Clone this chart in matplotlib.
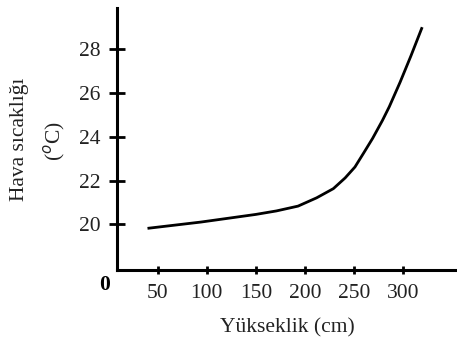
import matplotlib.pyplot as plt

# values
height_cm = [41, 94, 150, 171, 193, 212, 229, 241, 251, 260, 269, 279, 286, 297, 308, 319]
temp_c = [19.82, 20.1, 20.45, 20.61, 20.83, 21.21, 21.63, 22.12, 22.62, 23.27,
          23.93, 24.75, 25.38, 26.5, 27.7, 28.96]
xticks = [50, 100, 150, 200, 250, 300]
yticks = [20, 22, 24, 26, 28]

plt.rcParams['font.family'] = ['Liberation Serif', 'DejaVu Serif']

fig = plt.figure(figsize=(4.57, 3.45), dpi=100)
ax = fig.add_axes([0.256, 0.217, 0.744, 0.76])

ax.plot(height_cm, temp_c, color='black', linewidth=2.0)

ax.set_xlim(8.5, 355)
ax.set_ylim(17.9, 29.9)
ax.set_xticks(xticks)
ax.set_yticks(yticks)
ax.tick_params(direction='inout', width=2.0, labelsize=15.5,
               labelcolor='#222222', colors='black')
ax.tick_params(axis='x', length=6, pad=7)
ax.tick_params(axis='y', length=12, pad=6)

for s in ['top', 'right']:
    ax.spines[s].set_visible(False)
for s in ['left', 'bottom']:
    ax.spines[s].set_linewidth(2.2)

fig.text(105 / 457, 1 - 285 / 345, '0', fontsize=15.5, fontweight='bold',
         ha='center', va='center')
fig.text(287 / 457, 1 - 328 / 345, 'Yükseklik (cm)', fontsize=15.5,
         ha='center', va='center', color='#222222')
fig.text(20 / 457, 1 - 139 / 345, 'Hava sıcaklığı', fontsize=15.5, rotation=90,
         ha='center', va='center', color='#222222')
fig.text(55 / 457, 1 - 141 / 345, r'($^{o}$C)', fontsize=15.5, rotation=90,
         ha='center', va='center', color='#222222')

fig.savefig('out.png', dpi=100)
